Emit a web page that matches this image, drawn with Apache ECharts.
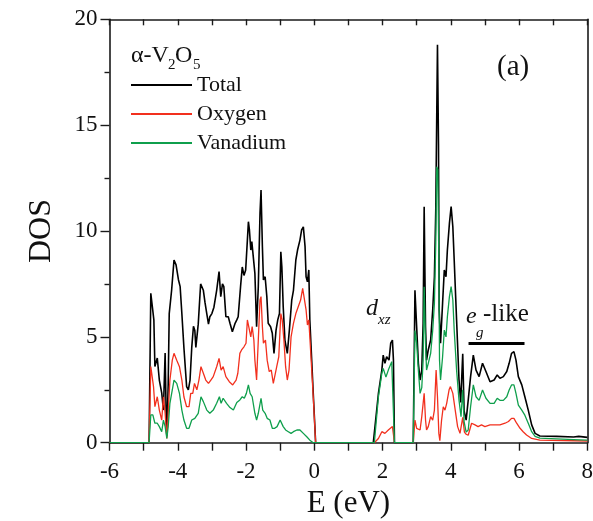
<!DOCTYPE html>
<html><head><meta charset="utf-8">
<script src="https://cdn.jsdelivr.net/npm/echarts@6/dist/echarts.min.js"></script>
<style>html,body{margin:0;padding:0;background:#fff}#c{width:593px;height:521px}</style>
</head><body><div id="c"></div>
<script>
const xTicks = [-6,-4,-2,0,2,4,6,8];
const yTicks = [0,5,10,15,20];
const seriesNames = ['Total','Oxygen','Vanadium'];
const totalPts = [[-6,0],[-4.84,0],[-4.79,7.06],[-4.70,5.8],[-4.67,3.6],[-4.60,4.0],[-4.54,2.96],[-4.47,2.35],[-4.42,1.54],[-4.37,4.24],[-4.34,1.4],[-4.32,0.3],[-4.28,2.8],[-4.25,6.1],[-4.18,7.2],[-4.11,8.63],[-4.05,8.4],[-3.98,7.7],[-3.93,7.37],[-3.88,6.1],[-3.82,4.5],[-3.74,2.65],[-3.69,2.5],[-3.64,2.96],[-3.59,4.5],[-3.54,5.5],[-3.50,5.3],[-3.47,4.5],[-3.40,5.6],[-3.33,7.5],[-3.25,7.2],[-3.20,6.6],[-3.15,6.1],[-3.10,5.6],[-3.06,5.95],[-3.00,6.1],[-2.94,6.4],[-2.86,7.2],[-2.79,8.08],[-2.74,6.9],[-2.69,7.5],[-2.65,7.37],[-2.59,5.95],[-2.52,5.95],[-2.47,5.64],[-2.40,5.24],[-2.32,5.64],[-2.27,5.8],[-2.23,5.95],[-2.16,7.37],[-2.11,8.3],[-2.06,7.9],[-2.01,8.16],[-1.96,9.57],[-1.93,10.44],[-1.90,10.05],[-1.86,9.1],[-1.83,9.5],[-1.79,9.57],[-1.74,8.0],[-1.69,5.48],[-1.64,7.37],[-1.59,10.84],[-1.56,11.94],[-1.52,9.26],[-1.49,7.69],[-1.44,7.84],[-1.39,6.9],[-1.35,5.64],[-1.28,5.48],[-1.23,5.17],[-1.18,4.22],[-1.12,5.32],[-1.07,5.8],[-1.02,6.1],[-0.98,9.02],[-0.95,8.31],[-0.91,6.42],[-0.86,4.85],[-0.79,4.22],[-0.73,5.32],[-0.66,6.74],[-0.61,7.2],[-0.54,8.63],[-0.49,9.1],[-0.42,9.57],[-0.37,10.05],[-0.32,10.2],[-0.27,9.26],[-0.24,7.84],[-0.20,7.6],[-0.16,8.16],[-0.13,5.8],[-0.03,2.33],[0.04,0],[1.73,0],[1.88,2.33],[1.98,3.43],[2.02,4.14],[2.07,3.75],[2.12,4.06],[2.19,3.9],[2.24,4.7],[2.29,4.85],[2.32,3.9],[2.35,0],[2.90,0],[2.95,7.2],[3.00,5.48],[3.05,3.75],[3.10,2.96],[3.15,3.43],[3.19,5.64],[3.22,11.15],[3.26,5.48],[3.29,3.9],[3.34,4.38],[3.41,4.85],[3.47,6.27],[3.52,7.84],[3.56,11.0],[3.59,15.7],[3.61,18.8],[3.64,14.1],[3.66,6.27],[3.70,4.7],[3.76,6.6],[3.81,8.16],[3.86,7.84],[3.90,9.1],[3.96,10.36],[4.01,11.15],[4.06,10.2],[4.10,8.63],[4.17,5.8],[4.24,3.0],[4.29,1.9],[4.35,4.2],[4.39,1.5],[4.45,1.07],[4.51,2.0],[4.58,3.12],[4.66,4.14],[4.74,3.43],[4.83,3.12],[4.93,3.75],[5.03,3.36],[5.15,2.88],[5.27,2.96],[5.36,3.2],[5.44,3.04],[5.54,3.12],[5.64,3.36],[5.71,3.75],[5.78,4.22],[5.85,4.3],[5.91,3.9],[5.98,3.12],[6.08,2.73],[6.17,2.17],[6.27,1.54],[6.37,0.84],[6.47,0.44],[6.61,0.32],[7.1,0.3],[7.6,0.27],[7.75,0.3],[8.0,0.25]];
const oxygenPts = [[-6,0],[-4.84,0],[-4.79,3.6],[-4.71,2.65],[-4.67,1.7],[-4.60,2.17],[-4.54,1.54],[-4.47,1.07],[-4.42,2.17],[-4.37,1.39],[-4.32,0.2],[-4.28,1.39],[-4.23,2.96],[-4.16,3.9],[-4.11,4.22],[-4.03,3.9],[-3.95,3.59],[-3.88,2.96],[-3.82,2.17],[-3.74,1.7],[-3.67,1.7],[-3.62,2.33],[-3.56,2.33],[-3.51,2.8],[-3.44,2.5],[-3.38,2.96],[-3.32,3.59],[-3.25,3.28],[-3.18,2.96],[-3.10,2.8],[-3.03,2.96],[-2.96,3.12],[-2.86,3.59],[-2.79,3.98],[-2.73,3.43],[-2.67,3.59],[-2.59,3.12],[-2.49,2.88],[-2.39,2.73],[-2.29,2.96],[-2.24,3.28],[-2.18,4.22],[-2.13,4.38],[-2.06,4.53],[-2.0,4.7],[-1.96,5.8],[-1.92,5.48],[-1.86,5.0],[-1.82,5.48],[-1.77,4.85],[-1.74,3.9],[-1.69,2.96],[-1.64,4.85],[-1.59,6.74],[-1.56,6.9],[-1.52,5.48],[-1.49,4.7],[-1.43,4.85],[-1.38,3.9],[-1.32,3.36],[-1.26,3.43],[-1.20,2.8],[-1.17,2.73],[-1.10,3.59],[-1.04,4.06],[-0.98,6.1],[-0.94,5.8],[-0.89,4.85],[-0.84,3.59],[-0.79,2.96],[-0.74,3.43],[-0.68,5.0],[-0.61,5.64],[-0.54,6.1],[-0.47,6.42],[-0.40,6.74],[-0.34,7.29],[-0.31,7.2],[-0.24,6.27],[-0.20,5.56],[-0.16,5.8],[-0.13,5.0],[-0.03,2.17],[0.04,0],[1.76,0],[1.88,0.2],[1.98,0.52],[2.07,0.44],[2.17,0.6],[2.29,0.76],[2.32,0.84],[2.35,0],[2.90,0],[2.95,1.07],[3.0,0.68],[3.05,0.76],[3.10,0.6],[3.15,1.23],[3.19,1.86],[3.22,2.33],[3.26,1.07],[3.29,0.6],[3.34,0.76],[3.41,1.23],[3.47,1.07],[3.52,1.54],[3.57,3.43],[3.61,2.17],[3.65,0.44],[3.68,0.1],[3.73,1.07],[3.78,1.7],[3.83,1.54],[3.88,1.86],[3.95,2.5],[3.99,2.65],[4.06,2.33],[4.13,1.54],[4.20,0.76],[4.27,0.44],[4.35,1.2],[4.40,0.5],[4.45,0.4],[4.51,0.35],[4.61,0.92],[4.71,0.84],[4.80,0.76],[4.90,0.84],[5.0,0.76],[5.15,0.84],[5.30,0.84],[5.44,0.84],[5.59,0.92],[5.69,1.0],[5.78,1.15],[5.85,1.15],[5.93,0.92],[6.03,0.68],[6.12,0.52],[6.22,0.36],[6.37,0.2],[6.61,0.12],[8.0,0.08]];
const vanadiumPts = [[-6,0],[-4.84,0],[-4.79,1.31],[-4.73,1.31],[-4.67,0.92],[-4.60,0.92],[-4.54,0.76],[-4.47,0.52],[-4.42,1.07],[-4.37,0.76],[-4.32,0.2],[-4.28,0.76],[-4.23,1.86],[-4.16,2.49],[-4.11,2.96],[-4.03,2.8],[-3.95,2.33],[-3.88,1.54],[-3.82,1.07],[-3.74,0.68],[-3.67,0.68],[-3.59,1.07],[-3.50,1.15],[-3.40,1.39],[-3.32,2.17],[-3.25,1.94],[-3.15,1.54],[-3.06,1.39],[-2.96,1.54],[-2.86,1.86],[-2.78,2.17],[-2.73,1.86],[-2.67,2.1],[-2.57,1.86],[-2.47,1.66],[-2.37,1.54],[-2.27,1.9],[-2.18,2.02],[-2.11,2.17],[-2.05,2.1],[-1.99,2.33],[-1.93,2.73],[-1.88,2.33],[-1.82,2.17],[-1.74,1.39],[-1.69,1.07],[-1.64,1.39],[-1.56,2.1],[-1.51,1.54],[-1.44,1.39],[-1.38,1.15],[-1.30,1.07],[-1.23,0.68],[-1.16,0.68],[-1.09,0.76],[-1.00,1.07],[-0.95,1.15],[-0.91,0.76],[-0.84,0.6],[-0.76,0.52],[-0.68,0.44],[-0.61,0.52],[-0.51,0.6],[-0.42,0.6],[-0.32,0.44],[-0.22,0.28],[-0.13,0.12],[-0.03,0],[1.76,0],[1.88,2.17],[1.98,3.28],[2.02,3.51],[2.10,3.1],[2.17,3.43],[2.27,3.83],[2.32,3.75],[2.35,0],[2.90,0],[2.95,5.3],[3.0,4.7],[3.05,3.43],[3.10,2.33],[3.15,2.6],[3.19,3.9],[3.22,7.37],[3.26,4.7],[3.29,3.43],[3.34,3.75],[3.41,4.22],[3.47,5.3],[3.52,6.58],[3.56,9.42],[3.59,13.04],[3.62,12.9],[3.65,8.6],[3.67,3.9],[3.70,2.96],[3.76,4.06],[3.81,5.32],[3.86,5.0],[3.90,5.95],[3.96,6.9],[4.01,7.37],[4.06,6.74],[4.10,5.32],[4.17,3.43],[4.24,2.02],[4.30,1.23],[4.35,2.5],[4.39,1.0],[4.45,0.5],[4.51,0.6],[4.58,1.7],[4.66,2.73],[4.74,2.17],[4.83,2.0],[4.93,2.49],[5.03,2.1],[5.15,1.86],[5.27,1.86],[5.36,2.1],[5.44,2.0],[5.54,2.0],[5.64,2.17],[5.71,2.49],[5.78,2.73],[5.85,2.73],[5.91,2.33],[5.98,1.78],[6.08,1.54],[6.17,1.3],[6.27,0.92],[6.37,0.52],[6.47,0.3],[6.61,0.22],[7.6,0.15],[8.0,0.12]];
const egBar = [[4.52,4.72],[6.16,4.72]];

const FONT = 'Liberation Serif';
const AX = '#1a1a1a';
const chart = echarts.init(document.getElementById('c'));
chart.setOption({
  animation:false,
  grid:{left:109.5,right:5.7,top:19.3,bottom:78.3,containLabel:false,outerBoundsMode:'none'},
  legend:{orient:'vertical',left:131,top:74,padding:0,itemWidth:61,itemHeight:2,itemGap:7,icon:'rect',
    textStyle:{fontFamily:FONT,fontSize:22,color:'#111'},
    data:seriesNames},
  xAxis:[{type:'value',min:-6,max:8,interval:1,position:'bottom',
    name:'E (eV)',nameLocation:'middle',nameGap:42,
    nameTextStyle:{fontFamily:FONT,fontSize:31,color:'#111'},
    axisLine:{onZero:false,lineStyle:{color:AX,width:1.6}},
    axisTick:{inside:false,length:8,lineStyle:{color:AX,width:1.4}},
    axisLabel:{fontFamily:FONT,fontSize:23,color:'#111',margin:18,
      formatter:v=>xTicks.includes(v)?String(v):''},
    splitLine:{show:false}},
   {type:'value',min:-6,max:8,interval:1,position:'top',
    axisLine:{onZero:false,lineStyle:{color:AX,width:1.6}},
    axisTick:{inside:true,length:6,lineStyle:{color:AX,width:1.4}},
    axisLabel:{show:false},splitLine:{show:false}}],
  yAxis:[{type:'value',min:0,max:20,interval:5,position:'left',
    name:'DOS',nameLocation:'middle',nameGap:52,nameRotate:90,
    nameTextStyle:{fontFamily:FONT,fontSize:32,color:'#111'},
    axisLine:{onZero:false,lineStyle:{color:AX,width:1.6}},
    axisTick:{inside:false,length:9,lineStyle:{color:AX,width:1.4}},
    minorTick:{show:true,splitNumber:2,length:5,lineStyle:{color:AX,width:1.4}},
    axisLabel:{fontFamily:FONT,fontSize:23,color:'#111',margin:12,
      formatter:v=>yTicks.includes(v)?String(v):''},
    splitLine:{show:false}},
   {type:'value',min:0,max:20,interval:5,position:'right',
    axisLine:{onZero:false,lineStyle:{color:AX,width:1.6}},
    axisTick:{show:false},axisLabel:{show:false},splitLine:{show:false}}],
  series:[
    {name:seriesNames[0],type:'line',data:totalPts,showSymbol:false,color:'#000',
      lineStyle:{color:'#000',width:1.6},
      markLine:{silent:true,symbol:'none',label:{show:false},
        lineStyle:{color:'#000',width:3,type:'solid'},
        data:[[{coord:egBar[0]},{coord:egBar[1]}]]}},
    {name:seriesNames[1],type:'line',data:oxygenPts,showSymbol:false,color:'#f2301e',
      lineStyle:{color:'#f2301e',width:1.3}},
    {name:seriesNames[2],type:'line',data:vanadiumPts,showSymbol:false,color:'#0f9f4c',
      lineStyle:{color:'#0f9f4c',width:1.3}}
  ],
  graphic:[
    {type:'text',left:131,top:44,style:{text:'α-V',font:'24px "Liberation Serif"',fill:'#111'}},
    {type:'text',left:168,top:58,style:{text:'2',font:'15px "Liberation Serif"',fill:'#111'}},
    {type:'text',left:175,top:44,style:{text:'O',font:'24px "Liberation Serif"',fill:'#111'}},
    {type:'text',left:193,top:58,style:{text:'5',font:'15px "Liberation Serif"',fill:'#111'}},
    {type:'text',left:497,top:53,style:{text:'(a)',font:'29px "Liberation Serif"',fill:'#111'}},
    {type:'text',left:366,top:297,style:{text:'d',font:'italic 24px "Liberation Serif"',fill:'#111'}},
    {type:'text',left:378,top:313,style:{text:'xz',font:'italic 15px "Liberation Serif"',fill:'#111'}},
    {type:'text',left:466,top:305,style:{text:'e',font:'italic 24px "Liberation Serif"',fill:'#111'}},
    {type:'text',left:476,top:326,style:{text:'g',font:'italic 15px "Liberation Serif"',fill:'#111'}},
    {type:'text',left:483,top:302,style:{text:'-like',font:'25px "Liberation Serif"',fill:'#111'}}
  ]
});
</script></body></html>
